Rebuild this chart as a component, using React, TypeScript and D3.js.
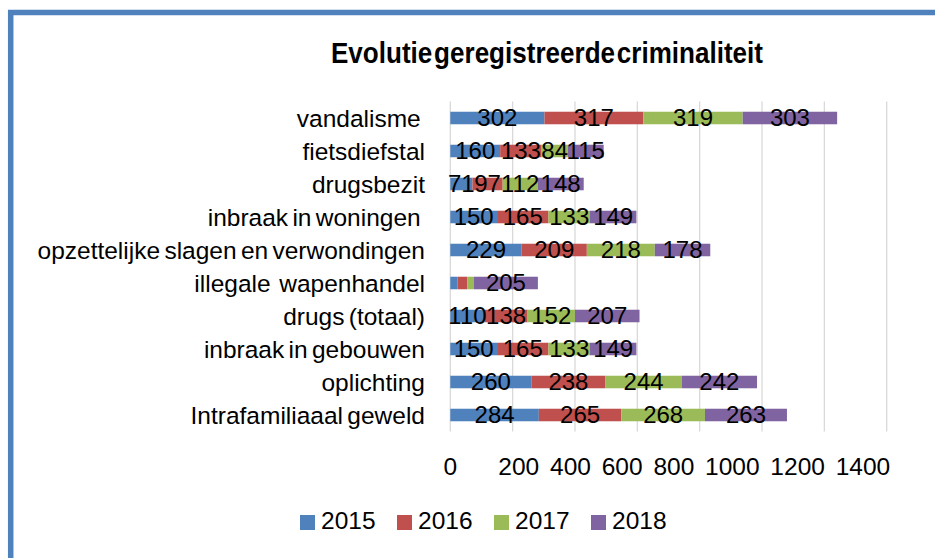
import * as d3 from "d3";

const categories = [
  "vandalisme ",
  "fietsdiefstal",
  "drugsbezit",
  "inbraak in woningen ",
  "opzettelijke slagen en verwondingen",
  "illegale  wapenhandel",
  "drugs (totaal)",
  "inbraak in gebouwen",
  "oplichting",
  "Intrafamiliaaal geweld",
];

const years = ["2015", "2016", "2017", "2018"];
const v2015 = [302, 160, 71, 150, 229, 23, 110, 150, 260, 284];
const v2016 = [317, 133, 97, 165, 209, 32, 138, 165, 238, 265];
const v2017 = [319, 84, 112, 133, 218, 21, 152, 133, 244, 268];
const v2018 = [303, 115, 148, 149, 178, 205, 207, 149, 242, 263];
const xTicks = [0, 200, 400, 600, 800, 1000, 1200, 1400];

const colors = ["#4f81bd", "#c0504d", "#9bbb59", "#8064a2"];
const font = "'Liberation Sans', Arial, sans-serif";

export default function App() {
  const width = 935;
  const height = 558;
  const series = [v2015, v2016, v2017, v2018];

  const x = d3.scaleLinear().domain([0, 1400]).range([450.3, 886.7]);
  const y = d3
    .scaleBand()
    .domain(categories)
    .range([101.5, 431.5])
    .paddingInner(0.62)
    .paddingOuter(0.31);

  // stack the four years per category
  const rows = categories.map((c, i) => {
    let acc = 0;
    return series.map((s, k) => {
      const start = acc;
      acc += s[i];
      return { cat: c, k, value: s[i], x0: start, x1: acc };
    });
  });

  const legendX = d3.scaleBand().domain(years).range([300, 688]);
  const [y0, y1] = y.range();

  return (
    <svg
      width={width}
      height={height}
      style={{ position: "fixed", left: 0, top: 0, background: "#fff" }}
    >
      <rect x={10.7} y={12.5} width={960} height={600} fill="#fff" stroke="#4f81bd" strokeWidth={5.5} />
      <text
        x={331}
        y={63.3}
        fontFamily={font}
        fontWeight="bold"
        fontSize={29}
        textLength={432}
        lengthAdjust="spacingAndGlyphs"
        style={{ wordSpacing: "-6px" }}
      >
        Evolutie geregistreerde criminaliteit
      </text>

      {xTicks.map((t) => (
        <line key={t} x1={x(t)} x2={x(t)} y1={y0} y2={y1} stroke="#d9d9d9" strokeWidth={1.3} />
      ))}

      {categories.map((c) => (
        <text
          key={c}
          x={425}
          y={(y(c) as number) + y.bandwidth() / 2}
          dy="0.35em"
          textAnchor="end"
          fontFamily={font}
          fontSize={24.5}
          style={{ whiteSpace: "pre", wordSpacing: "-2.5px" }}
        >
          {c}
        </text>
      ))}

      {rows.map((r) =>
        r.map((d) => (
          <rect
            key={d.cat + d.k}
            x={x(d.x0)}
            y={y(d.cat)}
            width={x(d.x1) - x(d.x0)}
            height={y.bandwidth()}
            fill={colors[d.k]}
          />
        ))
      )}

      {rows.map((r) =>
        r
          .filter((d) => d.value >= 50)
          .map((d) => (
            <text
              key={"l" + d.cat + d.k}
              x={(x(d.x0) + x(d.x1)) / 2}
              y={(y(d.cat) as number) + y.bandwidth() / 2}
              dy="0.35em"
              textAnchor="middle"
              fontFamily={font}
              fontSize={24}
              fill="#000"
            >
              {d.value}
            </text>
          ))
      )}

      {/* axis labels: the first sits under 0, the others run on as one line up to 1400 */}
      <text x={x(xTicks[0])} y={475} textAnchor="middle" fontFamily={font} fontSize={24.5}>
        {xTicks[0]}
      </text>
      <text
        x={x(xTicks[xTicks.length - 1]) + 3.5}
        y={475}
        textAnchor="end"
        fontFamily={font}
        fontSize={24.5}
        style={{ whiteSpace: "pre", wordSpacing: "4px" }}
      >
        {xTicks.slice(1).join(" ")}
      </text>

      {years.map((yr, k) => (
        <g key={yr} transform={`translate(${legendX(yr)},0)`}>
          <rect x={0} y={515} width={15} height={15} fill={colors[k]} />
          <text x={21} y={529.3} fontFamily={font} fontSize={24.5}>
            {yr}
          </text>
        </g>
      ))}
    </svg>
  );
}
